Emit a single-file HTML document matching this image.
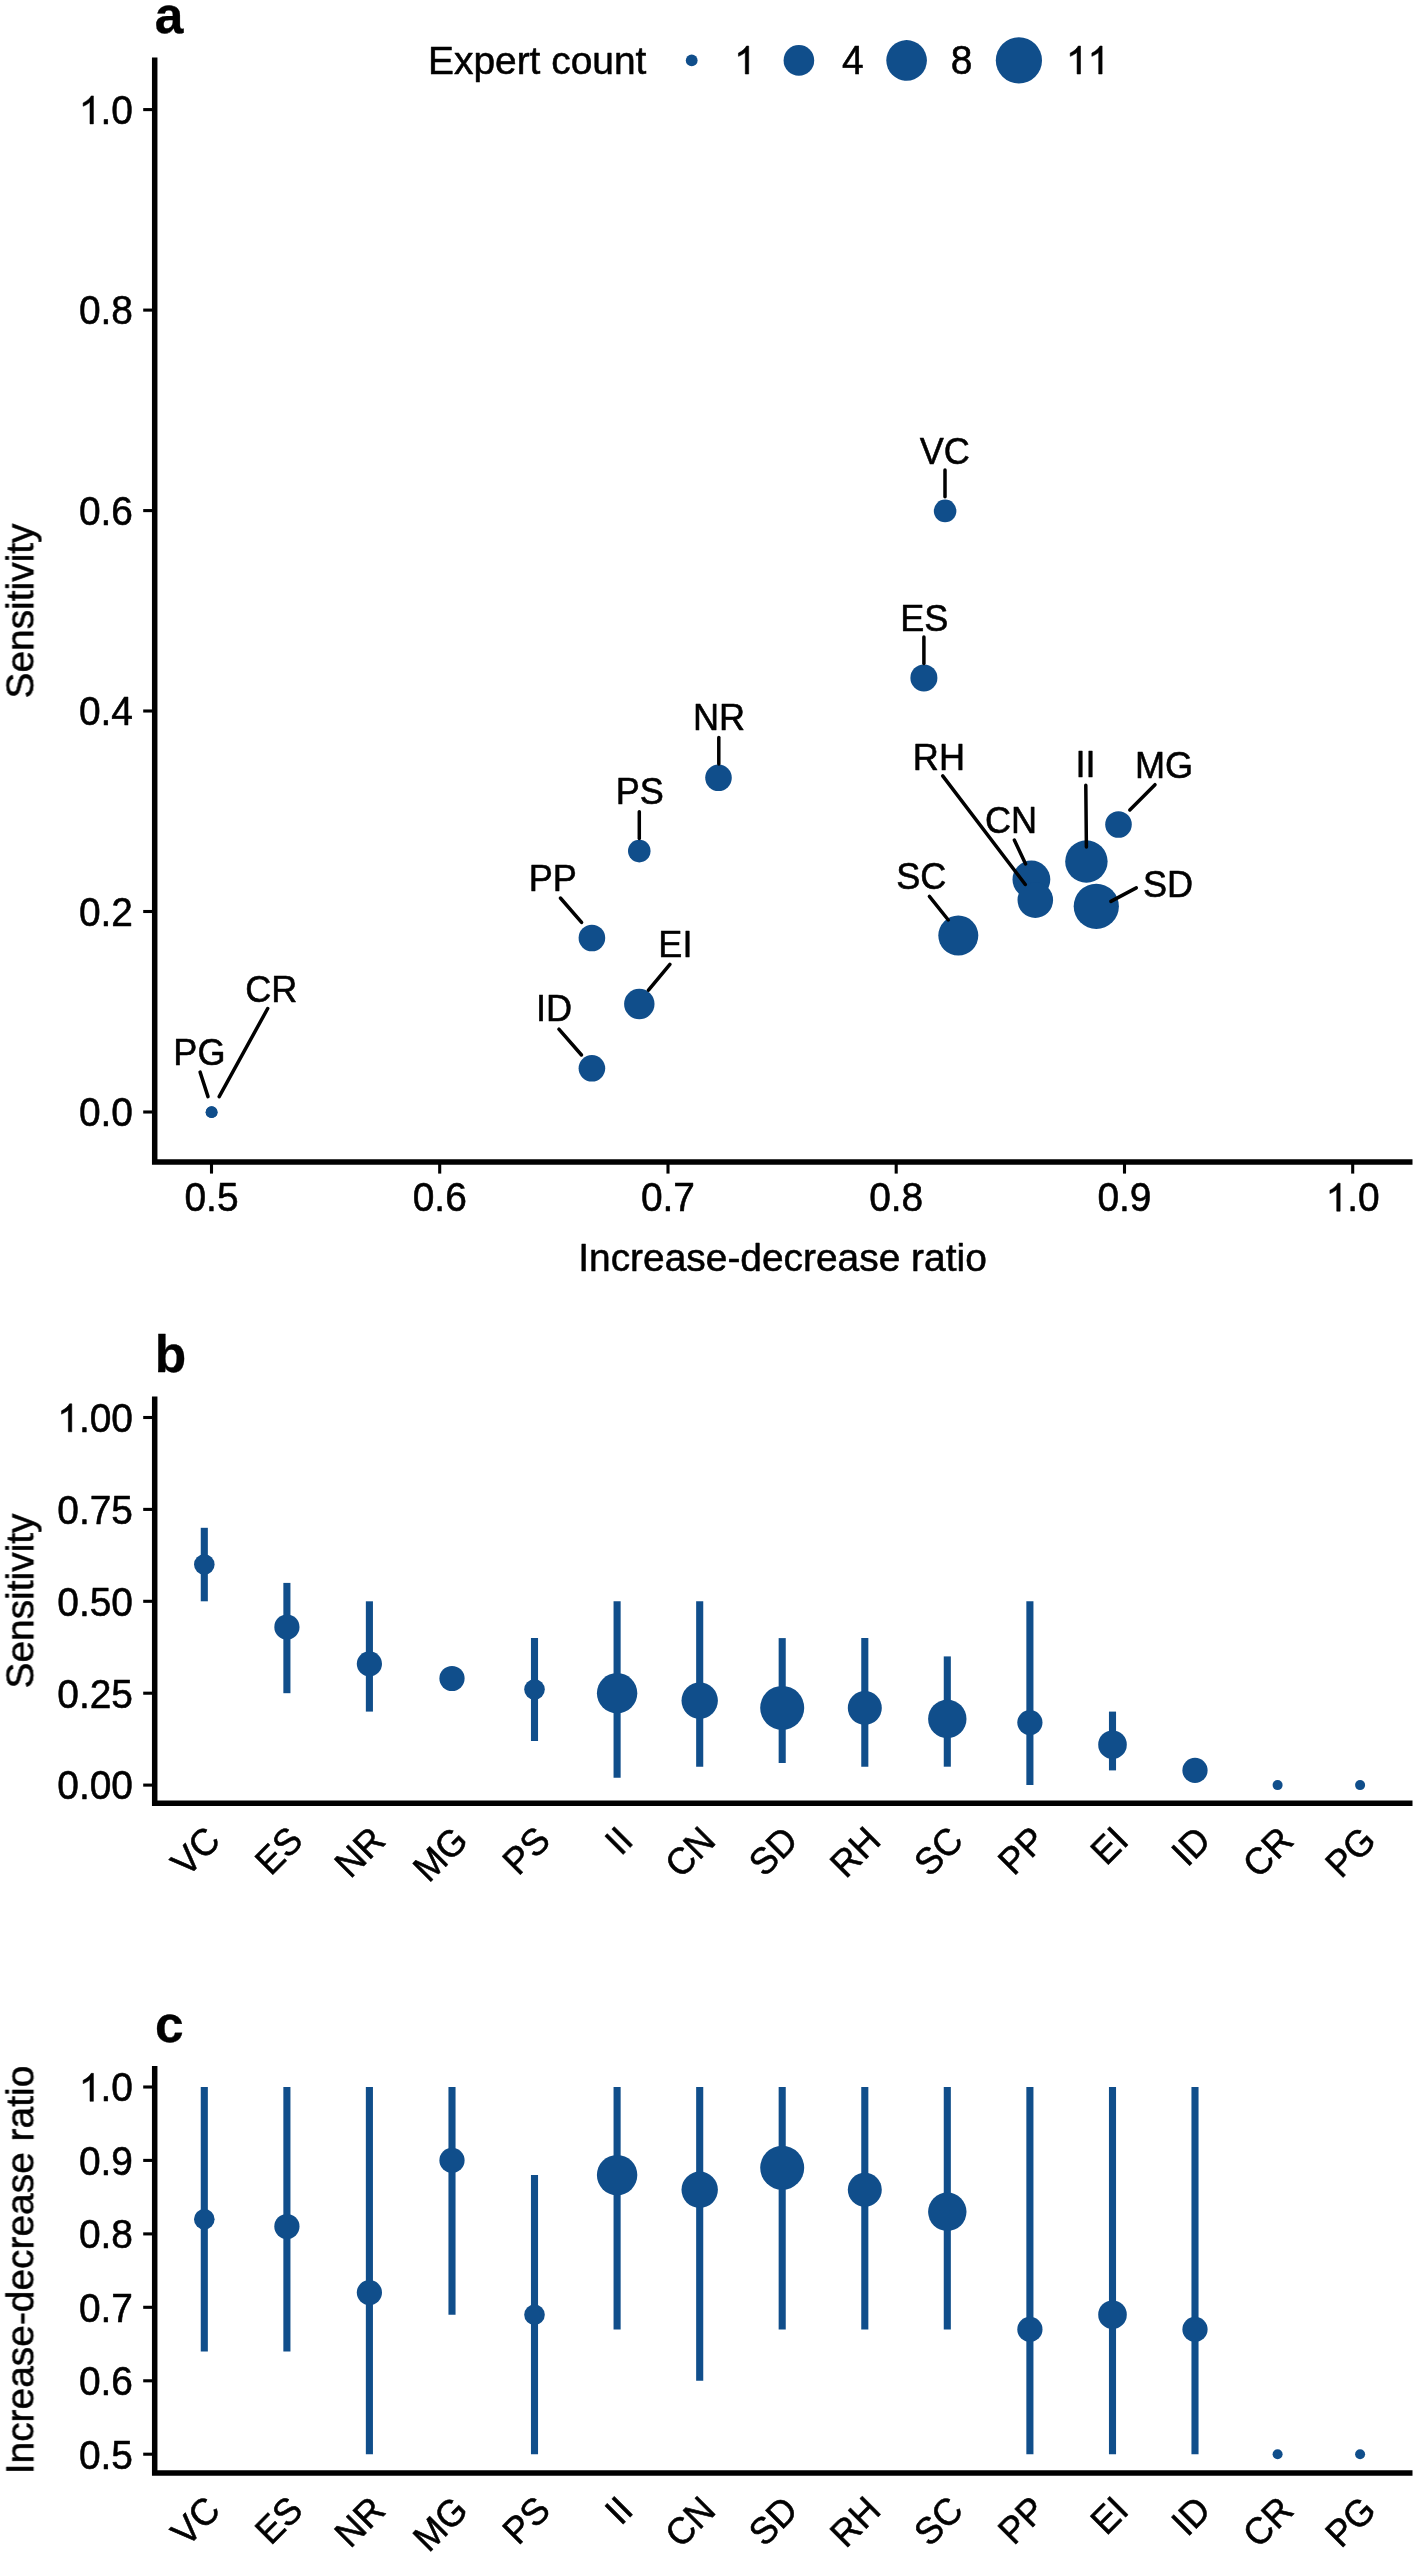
<!DOCTYPE html>
<html><head><meta charset="utf-8"><title>Figure</title>
<style>html,body{margin:0;padding:0;background:#fff}svg{display:block}</style></head>
<body>
<svg width="1418" height="2553" viewBox="0 0 1418 2553" font-family="Liberation Sans, sans-serif">
<style>text,.g1{stroke:#000;stroke-width:.55px;stroke-linejoin:round}text.tag{stroke-width:.3px}</style>
<rect width="1418" height="2553" fill="#fff"/>
<g opacity="0.999">
<text x="154.7" y="32.8" font-size="51.5" font-weight="bold" class="tag">a</text>
<path d="M154.7 60.25 V1162.0 H1409.75" fill="none" stroke="#000" stroke-width="5.5" stroke-linecap="square"/>
<line x1="143.2" x2="154.7" y1="1112.0" y2="1112.0" stroke="#000" stroke-width="3.1"/>
<text transform="translate(78.92,1126.3) scale(1,1.04)" font-size="38.9">0.0</text>
<line x1="143.2" x2="154.7" y1="911.5" y2="911.5" stroke="#000" stroke-width="3.1"/>
<text transform="translate(78.92,925.8) scale(1,1.04)" font-size="38.9">0.2</text>
<line x1="143.2" x2="154.7" y1="711.0" y2="711.0" stroke="#000" stroke-width="3.1"/>
<text transform="translate(78.92,725.3) scale(1,1.04)" font-size="38.9">0.4</text>
<line x1="143.2" x2="154.7" y1="510.6" y2="510.6" stroke="#000" stroke-width="3.1"/>
<text transform="translate(78.92,524.9) scale(1,1.04)" font-size="38.9">0.6</text>
<line x1="143.2" x2="154.7" y1="310.1" y2="310.1" stroke="#000" stroke-width="3.1"/>
<text transform="translate(78.92,324.4) scale(1,1.04)" font-size="38.9">0.8</text>
<line x1="143.2" x2="154.7" y1="109.6" y2="109.6" stroke="#000" stroke-width="3.1"/>
<path class="g1" style="stroke-width:29.0px" transform="translate(78.92,123.9) scale(0.01899,-0.01899)" d="M763 0H583V1147Q518 1085 412.5 1023Q307 961 223 930V1104Q374 1175 487 1276Q600 1377 647 1472H763Z"/>
<text transform="translate(100.56,123.9) scale(1,1.04)" font-size="38.9">.0</text>
<line y1="1162.0" y2="1173.6" x1="211.5" x2="211.5" stroke="#000" stroke-width="3.1"/>
<text transform="translate(184.46,1211.2) scale(1,1.04)" font-size="38.9">0.5</text>
<line y1="1162.0" y2="1173.6" x1="439.7" x2="439.7" stroke="#000" stroke-width="3.1"/>
<text transform="translate(412.70,1211.2) scale(1,1.04)" font-size="38.9">0.6</text>
<line y1="1162.0" y2="1173.6" x1="668.0" x2="668.0" stroke="#000" stroke-width="3.1"/>
<text transform="translate(640.94,1211.2) scale(1,1.04)" font-size="38.9">0.7</text>
<line y1="1162.0" y2="1173.6" x1="896.2" x2="896.2" stroke="#000" stroke-width="3.1"/>
<text transform="translate(869.18,1211.2) scale(1,1.04)" font-size="38.9">0.8</text>
<line y1="1162.0" y2="1173.6" x1="1124.5" x2="1124.5" stroke="#000" stroke-width="3.1"/>
<text transform="translate(1097.42,1211.2) scale(1,1.04)" font-size="38.9">0.9</text>
<line y1="1162.0" y2="1173.6" x1="1352.7" x2="1352.7" stroke="#000" stroke-width="3.1"/>
<path class="g1" style="stroke-width:29.0px" transform="translate(1325.66,1211.2) scale(0.01899,-0.01899)" d="M763 0H583V1147Q518 1085 412.5 1023Q307 961 223 930V1104Q374 1175 487 1276Q600 1377 647 1472H763Z"/>
<text transform="translate(1347.30,1211.2) scale(1,1.04)" font-size="38.9">.0</text>
<text x="782.5" y="1271" font-size="38.9" text-anchor="middle">Increase-decrease ratio</text>
<text transform="translate(33.4,611) rotate(-90)" font-size="38.9" text-anchor="middle">Sensitivity</text>
<text x="428" y="74" font-size="38.9">Expert count</text>
<circle cx="691.7" cy="60.4" r="5.9" fill="#104E8B"/>
<path class="g1" style="stroke-width:29.0px" transform="translate(734.20,74.0) scale(0.01899,-0.01899)" d="M763 0H583V1147Q518 1085 412.5 1023Q307 961 223 930V1104Q374 1175 487 1276Q600 1377 647 1472H763Z"/>
<circle cx="798.9" cy="60.4" r="15.3" fill="#104E8B"/>
<text transform="translate(842.00,74.0) scale(1,1.04)" font-size="38.9">4</text>
<circle cx="906.6" cy="60.4" r="20.3" fill="#104E8B"/>
<text transform="translate(950.80,74.0) scale(1,1.04)" font-size="38.9">8</text>
<circle cx="1018.9" cy="60.4" r="23.1" fill="#104E8B"/>
<path class="g1" style="stroke-width:29.0px" transform="translate(1066.00,74.0) scale(0.01899,-0.01899)" d="M763 0H583V1147Q518 1085 412.5 1023Q307 961 223 930V1104Q374 1175 487 1276Q600 1377 647 1472H763Z"/>
<path class="g1" style="stroke-width:29.0px" transform="translate(1087.63,74.0) scale(0.01899,-0.01899)" d="M763 0H583V1147Q518 1085 412.5 1023Q307 961 223 930V1104Q374 1175 487 1276Q600 1377 647 1472H763Z"/>
<circle cx="945.1" cy="510.9" r="11.3" fill="#104E8B"/>
<circle cx="923.9" cy="677.9" r="13.5" fill="#104E8B"/>
<circle cx="718.5" cy="777.8" r="13.3" fill="#104E8B"/>
<circle cx="639.3" cy="851.1" r="11.3" fill="#104E8B"/>
<circle cx="591.9" cy="938.0" r="13.3" fill="#104E8B"/>
<circle cx="639.3" cy="1004.0" r="15.2" fill="#104E8B"/>
<circle cx="591.9" cy="1068.3" r="13.3" fill="#104E8B"/>
<circle cx="1118.5" cy="824.5" r="13.3" fill="#104E8B"/>
<circle cx="1086.4" cy="861.5" r="21.2" fill="#104E8B"/>
<circle cx="1031.4" cy="879.5" r="18.9" fill="#104E8B"/>
<circle cx="1035.3" cy="900.1" r="17.8" fill="#104E8B"/>
<circle cx="1096.3" cy="906.3" r="22.6" fill="#104E8B"/>
<circle cx="958.3" cy="935.6" r="20.0" fill="#104E8B"/>
<circle cx="211.6" cy="1112.2" r="5.9" fill="#104E8B"/>
<circle cx="211.6" cy="1112.2" r="5.9" fill="#104E8B"/>
<line x1="945.0" y1="469.9" x2="945.0" y2="496.7" stroke="#000" stroke-width="3.5" stroke-linecap="round"/>
<text transform="translate(944.8,463.5) scale(1,1.04)" font-size="36.1" text-anchor="middle">VC</text>
<line x1="923.9" y1="637.1" x2="923.9" y2="663.4" stroke="#000" stroke-width="3.5" stroke-linecap="round"/>
<text transform="translate(924.3,630.7) scale(1,1.04)" font-size="36.1" text-anchor="middle">ES</text>
<line x1="718.8" y1="737.6" x2="718.8" y2="764.1" stroke="#000" stroke-width="3.5" stroke-linecap="round"/>
<text transform="translate(719.1,730.4) scale(1,1.04)" font-size="36.1" text-anchor="middle">NR</text>
<line x1="639.3" y1="811.8" x2="639.3" y2="838.4" stroke="#000" stroke-width="3.5" stroke-linecap="round"/>
<text transform="translate(639.7,804.3) scale(1,1.04)" font-size="36.1" text-anchor="middle">PS</text>
<line x1="560.4" y1="898.0" x2="581.6" y2="922.4" stroke="#000" stroke-width="3.5" stroke-linecap="round"/>
<text transform="translate(552.7,891.2) scale(1,1.04)" font-size="36.1" text-anchor="middle">PP</text>
<line x1="669.9" y1="964.3" x2="648.5" y2="990.1" stroke="#000" stroke-width="3.5" stroke-linecap="round"/>
<text transform="translate(675.4,956.9) scale(1,1.04)" font-size="36.1" text-anchor="middle">EI</text>
<line x1="558.9" y1="1029.2" x2="581.5" y2="1055.0" stroke="#000" stroke-width="3.5" stroke-linecap="round"/>
<text transform="translate(554.0,1021.0) scale(1,1.04)" font-size="36.1" text-anchor="middle">ID</text>
<line x1="1155.0" y1="784.7" x2="1129.8" y2="809.9" stroke="#000" stroke-width="3.5" stroke-linecap="round"/>
<text transform="translate(1164.1,777.5) scale(1,1.04)" font-size="36.1" text-anchor="middle">MG</text>
<line x1="1085.8" y1="785.2" x2="1086.4" y2="846.9" stroke="#000" stroke-width="3.5" stroke-linecap="round"/>
<text transform="translate(1085.5,776.6) scale(1,1.04)" font-size="36.1" text-anchor="middle">II</text>
<line x1="1014.3" y1="840.0" x2="1025.6" y2="864.0" stroke="#000" stroke-width="3.5" stroke-linecap="round"/>
<text transform="translate(1011.0,833.0) scale(1,1.04)" font-size="36.1" text-anchor="middle">CN</text>
<line x1="942.7" y1="775.9" x2="1025.3" y2="884.5" stroke="#000" stroke-width="3.5" stroke-linecap="round"/>
<text transform="translate(938.9,769.5) scale(1,1.04)" font-size="36.1" text-anchor="middle">RH</text>
<line x1="1136.3" y1="887.9" x2="1110.9" y2="901.4" stroke="#000" stroke-width="3.5" stroke-linecap="round"/>
<text transform="translate(1168.0,897.0) scale(1,1.04)" font-size="36.1" text-anchor="middle">SD</text>
<line x1="929.4" y1="896.3" x2="948.3" y2="920.0" stroke="#000" stroke-width="3.5" stroke-linecap="round"/>
<text transform="translate(921.2,888.9) scale(1,1.04)" font-size="36.1" text-anchor="middle">SC</text>
<line x1="267.7" y1="1008.5" x2="219.2" y2="1096.7" stroke="#000" stroke-width="3.5" stroke-linecap="round"/>
<text transform="translate(271.3,1001.5) scale(1,1.04)" font-size="36.1" text-anchor="middle">CR</text>
<line x1="200.1" y1="1072.1" x2="208.0" y2="1096.6" stroke="#000" stroke-width="3.5" stroke-linecap="round"/>
<text transform="translate(199.4,1065.0) scale(1,1.04)" font-size="36.1" text-anchor="middle">PG</text>
<text x="154.75" y="1372.1" font-size="51.5" font-weight="bold" class="tag">b</text>
<path d="M154.7 1399.15 V1803.3 H1409.75" fill="none" stroke="#000" stroke-width="5.5" stroke-linecap="square"/>
<line x1="143.2" x2="154.7" y1="1785.1" y2="1785.1" stroke="#000" stroke-width="3.1"/>
<text transform="translate(57.29,1799.4) scale(1,1.04)" font-size="38.9">0.00</text>
<line x1="143.2" x2="154.7" y1="1693.2" y2="1693.2" stroke="#000" stroke-width="3.1"/>
<text transform="translate(57.29,1707.5) scale(1,1.04)" font-size="38.9">0.25</text>
<line x1="143.2" x2="154.7" y1="1601.3" y2="1601.3" stroke="#000" stroke-width="3.1"/>
<text transform="translate(57.29,1615.6) scale(1,1.04)" font-size="38.9">0.50</text>
<line x1="143.2" x2="154.7" y1="1509.4" y2="1509.4" stroke="#000" stroke-width="3.1"/>
<text transform="translate(57.29,1523.7) scale(1,1.04)" font-size="38.9">0.75</text>
<line x1="143.2" x2="154.7" y1="1417.5" y2="1417.5" stroke="#000" stroke-width="3.1"/>
<path class="g1" style="stroke-width:29.0px" transform="translate(57.29,1431.8) scale(0.01899,-0.01899)" d="M763 0H583V1147Q518 1085 412.5 1023Q307 961 223 930V1104Q374 1175 487 1276Q600 1377 647 1472H763Z"/>
<text transform="translate(78.92,1431.8) scale(1,1.04)" font-size="38.9">.00</text>
<text transform="translate(33.4,1601) rotate(-90)" font-size="38.9" text-anchor="middle">Sensitivity</text>
<line x1="204.3" x2="204.3" y1="1601.3" y2="1527.8" stroke="#104E8B" stroke-width="7.1"/>
<circle cx="204.3" cy="1564.5" r="10.3" fill="#104E8B"/>
<text transform="translate(222.1,1842.6) rotate(-45) scale(1,1.04)" font-size="36.1" text-anchor="end">VC</text>
<line x1="286.9" x2="286.9" y1="1693.2" y2="1582.9" stroke="#104E8B" stroke-width="7.1"/>
<circle cx="286.9" cy="1627.0" r="12.6" fill="#104E8B"/>
<text transform="translate(304.7,1842.6) rotate(-45) scale(1,1.04)" font-size="36.1" text-anchor="end">ES</text>
<line x1="369.4" x2="369.4" y1="1711.6" y2="1601.3" stroke="#104E8B" stroke-width="7.1"/>
<circle cx="369.4" cy="1663.8" r="12.6" fill="#104E8B"/>
<text transform="translate(387.2,1842.6) rotate(-45) scale(1,1.04)" font-size="36.1" text-anchor="end">NR</text>
<circle cx="452.0" cy="1678.5" r="12.6" fill="#104E8B"/>
<text transform="translate(469.8,1842.6) rotate(-45) scale(1,1.04)" font-size="36.1" text-anchor="end">MG</text>
<line x1="534.5" x2="534.5" y1="1741.0" y2="1638.1" stroke="#104E8B" stroke-width="7.1"/>
<circle cx="534.5" cy="1689.5" r="10.3" fill="#104E8B"/>
<text transform="translate(552.3,1842.6) rotate(-45) scale(1,1.04)" font-size="36.1" text-anchor="end">PS</text>
<line x1="617.1" x2="617.1" y1="1777.7" y2="1601.3" stroke="#104E8B" stroke-width="7.1"/>
<circle cx="617.1" cy="1693.2" r="20.2" fill="#104E8B"/>
<text transform="translate(634.9,1842.6) rotate(-45) scale(1,1.04)" font-size="36.1" text-anchor="end">II</text>
<line x1="699.7" x2="699.7" y1="1766.7" y2="1601.3" stroke="#104E8B" stroke-width="7.1"/>
<circle cx="699.7" cy="1700.6" r="18.2" fill="#104E8B"/>
<text transform="translate(717.5,1842.6) rotate(-45) scale(1,1.04)" font-size="36.1" text-anchor="end">CN</text>
<line x1="782.2" x2="782.2" y1="1763.0" y2="1638.1" stroke="#104E8B" stroke-width="7.1"/>
<circle cx="782.2" cy="1707.9" r="22.0" fill="#104E8B"/>
<text transform="translate(800.0,1842.6) rotate(-45) scale(1,1.04)" font-size="36.1" text-anchor="end">SD</text>
<line x1="864.8" x2="864.8" y1="1766.7" y2="1638.1" stroke="#104E8B" stroke-width="7.1"/>
<circle cx="864.8" cy="1707.9" r="17.0" fill="#104E8B"/>
<text transform="translate(882.6,1842.6) rotate(-45) scale(1,1.04)" font-size="36.1" text-anchor="end">RH</text>
<line x1="947.3" x2="947.3" y1="1766.7" y2="1656.4" stroke="#104E8B" stroke-width="7.1"/>
<circle cx="947.3" cy="1718.9" r="19.2" fill="#104E8B"/>
<text transform="translate(965.1,1842.6) rotate(-45) scale(1,1.04)" font-size="36.1" text-anchor="end">SC</text>
<line x1="1029.9" x2="1029.9" y1="1785.1" y2="1601.3" stroke="#104E8B" stroke-width="7.1"/>
<circle cx="1029.9" cy="1722.6" r="12.6" fill="#104E8B"/>
<text transform="translate(1047.7,1842.6) rotate(-45) scale(1,1.04)" font-size="36.1" text-anchor="end">PP</text>
<line x1="1112.5" x2="1112.5" y1="1770.4" y2="1711.6" stroke="#104E8B" stroke-width="7.1"/>
<circle cx="1112.5" cy="1744.7" r="14.3" fill="#104E8B"/>
<text transform="translate(1130.3,1842.6) rotate(-45) scale(1,1.04)" font-size="36.1" text-anchor="end">EI</text>
<circle cx="1195.0" cy="1770.4" r="12.6" fill="#104E8B"/>
<text transform="translate(1212.8,1842.6) rotate(-45) scale(1,1.04)" font-size="36.1" text-anchor="end">ID</text>
<circle cx="1277.6" cy="1785.1" r="5.0" fill="#104E8B"/>
<text transform="translate(1295.4,1842.6) rotate(-45) scale(1,1.04)" font-size="36.1" text-anchor="end">CR</text>
<circle cx="1360.1" cy="1785.1" r="5.0" fill="#104E8B"/>
<text transform="translate(1377.9,1842.6) rotate(-45) scale(1,1.04)" font-size="36.1" text-anchor="end">PG</text>
<text x="155.05" y="2041.7" font-size="51.5" font-weight="bold" class="tag">c</text>
<path d="M154.7 2068.85 V2473.0 H1409.75" fill="none" stroke="#000" stroke-width="5.5" stroke-linecap="square"/>
<line x1="143.2" x2="154.7" y1="2454.2" y2="2454.2" stroke="#000" stroke-width="3.1"/>
<text transform="translate(78.92,2468.5) scale(1,1.04)" font-size="38.9">0.5</text>
<line x1="143.2" x2="154.7" y1="2380.8" y2="2380.8" stroke="#000" stroke-width="3.1"/>
<text transform="translate(78.92,2395.1) scale(1,1.04)" font-size="38.9">0.6</text>
<line x1="143.2" x2="154.7" y1="2307.3" y2="2307.3" stroke="#000" stroke-width="3.1"/>
<text transform="translate(78.92,2321.6) scale(1,1.04)" font-size="38.9">0.7</text>
<line x1="143.2" x2="154.7" y1="2233.9" y2="2233.9" stroke="#000" stroke-width="3.1"/>
<text transform="translate(78.92,2248.2) scale(1,1.04)" font-size="38.9">0.8</text>
<line x1="143.2" x2="154.7" y1="2160.4" y2="2160.4" stroke="#000" stroke-width="3.1"/>
<text transform="translate(78.92,2174.7) scale(1,1.04)" font-size="38.9">0.9</text>
<line x1="143.2" x2="154.7" y1="2087.0" y2="2087.0" stroke="#000" stroke-width="3.1"/>
<path class="g1" style="stroke-width:29.0px" transform="translate(78.92,2101.3) scale(0.01899,-0.01899)" d="M763 0H583V1147Q518 1085 412.5 1023Q307 961 223 930V1104Q374 1175 487 1276Q600 1377 647 1472H763Z"/>
<text transform="translate(100.56,2101.3) scale(1,1.04)" font-size="38.9">.0</text>
<text transform="translate(33.4,2270) rotate(-90)" font-size="38.9" text-anchor="middle">Increase-decrease ratio</text>
<line x1="204.3" x2="204.3" y1="2351.4" y2="2087.0" stroke="#104E8B" stroke-width="7.1"/>
<circle cx="204.3" cy="2219.2" r="10.3" fill="#104E8B"/>
<text transform="translate(222.1,2512.3) rotate(-45) scale(1,1.04)" font-size="36.1" text-anchor="end">VC</text>
<line x1="286.9" x2="286.9" y1="2351.4" y2="2087.0" stroke="#104E8B" stroke-width="7.1"/>
<circle cx="286.9" cy="2226.5" r="12.6" fill="#104E8B"/>
<text transform="translate(304.7,2512.3) rotate(-45) scale(1,1.04)" font-size="36.1" text-anchor="end">ES</text>
<line x1="369.4" x2="369.4" y1="2454.2" y2="2087.0" stroke="#104E8B" stroke-width="7.1"/>
<circle cx="369.4" cy="2292.6" r="12.6" fill="#104E8B"/>
<text transform="translate(387.2,2512.3) rotate(-45) scale(1,1.04)" font-size="36.1" text-anchor="end">NR</text>
<line x1="452.0" x2="452.0" y1="2314.7" y2="2087.0" stroke="#104E8B" stroke-width="7.1"/>
<circle cx="452.0" cy="2160.4" r="12.6" fill="#104E8B"/>
<text transform="translate(469.8,2512.3) rotate(-45) scale(1,1.04)" font-size="36.1" text-anchor="end">MG</text>
<line x1="534.5" x2="534.5" y1="2454.2" y2="2175.1" stroke="#104E8B" stroke-width="7.1"/>
<circle cx="534.5" cy="2314.7" r="10.3" fill="#104E8B"/>
<text transform="translate(552.3,2512.3) rotate(-45) scale(1,1.04)" font-size="36.1" text-anchor="end">PS</text>
<line x1="617.1" x2="617.1" y1="2329.4" y2="2087.0" stroke="#104E8B" stroke-width="7.1"/>
<circle cx="617.1" cy="2175.1" r="20.2" fill="#104E8B"/>
<text transform="translate(634.9,2512.3) rotate(-45) scale(1,1.04)" font-size="36.1" text-anchor="end">II</text>
<line x1="699.7" x2="699.7" y1="2380.8" y2="2087.0" stroke="#104E8B" stroke-width="7.1"/>
<circle cx="699.7" cy="2189.8" r="18.2" fill="#104E8B"/>
<text transform="translate(717.5,2512.3) rotate(-45) scale(1,1.04)" font-size="36.1" text-anchor="end">CN</text>
<line x1="782.2" x2="782.2" y1="2329.4" y2="2087.0" stroke="#104E8B" stroke-width="7.1"/>
<circle cx="782.2" cy="2167.8" r="22.0" fill="#104E8B"/>
<text transform="translate(800.0,2512.3) rotate(-45) scale(1,1.04)" font-size="36.1" text-anchor="end">SD</text>
<line x1="864.8" x2="864.8" y1="2329.4" y2="2087.0" stroke="#104E8B" stroke-width="7.1"/>
<circle cx="864.8" cy="2189.8" r="17.0" fill="#104E8B"/>
<text transform="translate(882.6,2512.3) rotate(-45) scale(1,1.04)" font-size="36.1" text-anchor="end">RH</text>
<line x1="947.3" x2="947.3" y1="2329.4" y2="2087.0" stroke="#104E8B" stroke-width="7.1"/>
<circle cx="947.3" cy="2211.8" r="19.2" fill="#104E8B"/>
<text transform="translate(965.1,2512.3) rotate(-45) scale(1,1.04)" font-size="36.1" text-anchor="end">SC</text>
<line x1="1029.9" x2="1029.9" y1="2454.2" y2="2087.0" stroke="#104E8B" stroke-width="7.1"/>
<circle cx="1029.9" cy="2329.4" r="12.6" fill="#104E8B"/>
<text transform="translate(1047.7,2512.3) rotate(-45) scale(1,1.04)" font-size="36.1" text-anchor="end">PP</text>
<line x1="1112.5" x2="1112.5" y1="2454.2" y2="2087.0" stroke="#104E8B" stroke-width="7.1"/>
<circle cx="1112.5" cy="2314.7" r="14.3" fill="#104E8B"/>
<text transform="translate(1130.3,2512.3) rotate(-45) scale(1,1.04)" font-size="36.1" text-anchor="end">EI</text>
<line x1="1195.0" x2="1195.0" y1="2454.2" y2="2087.0" stroke="#104E8B" stroke-width="7.1"/>
<circle cx="1195.0" cy="2329.4" r="12.6" fill="#104E8B"/>
<text transform="translate(1212.8,2512.3) rotate(-45) scale(1,1.04)" font-size="36.1" text-anchor="end">ID</text>
<circle cx="1277.6" cy="2454.2" r="5.0" fill="#104E8B"/>
<text transform="translate(1295.4,2512.3) rotate(-45) scale(1,1.04)" font-size="36.1" text-anchor="end">CR</text>
<circle cx="1360.1" cy="2454.2" r="5.0" fill="#104E8B"/>
<text transform="translate(1377.9,2512.3) rotate(-45) scale(1,1.04)" font-size="36.1" text-anchor="end">PG</text>
</g>
</svg>
</body></html>
